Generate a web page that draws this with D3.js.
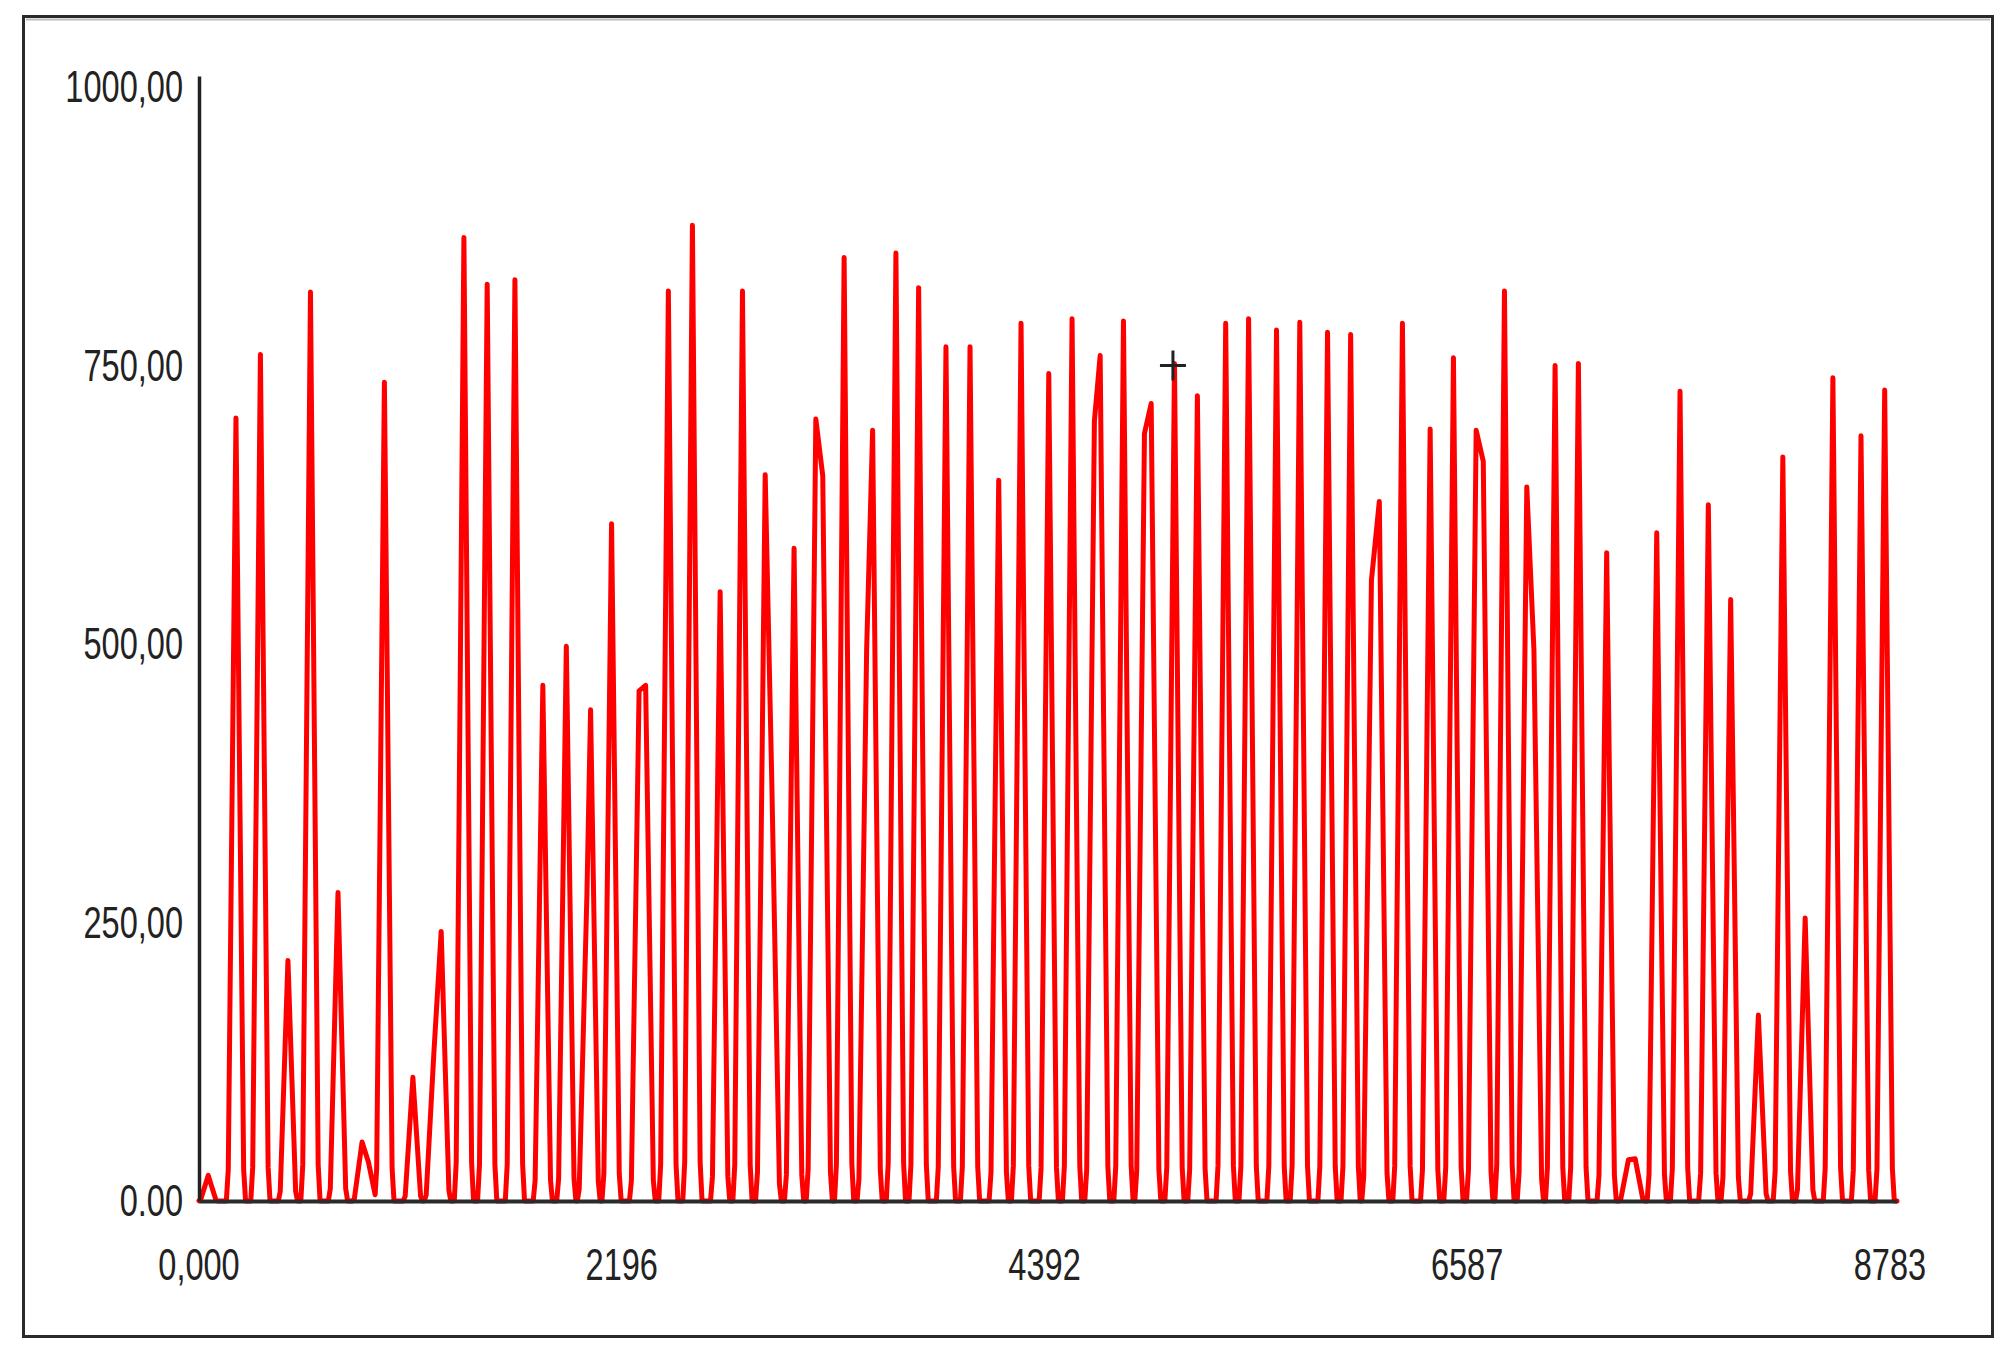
<!DOCTYPE html>
<html><head><meta charset="utf-8">
<script src="https://cdn.jsdelivr.net/npm/d3@7"></script>
<style>html,body{margin:0;padding:0;background:#fff;} svg{display:block}</style>
</head><body><svg id="chart" width="2010" height="1358"></svg>
<script>
// Peak positions (x units) and heights (shoulders and minor bumps included)
const peakX = [48, 192, 319, 462, 579, 722, 847, 880, 963, 1111, 1220, 1258, 1376, 1497, 1641, 1786, 1908, 2015, 2034, 2143,
  2286, 2320, 2438, 2563, 2707, 2823, 2941, 2975, 3091, 3204, 3240, 3351, 3468, 3499, 3620, 3738, 3880, 4005, 4154, 4270,
  4414, 4535, 4651, 4681, 4802, 4911, 4946, 5067, 5186, 5333, 5452, 5597, 5718, 5862, 5982, 6090, 6131, 6251, 6395, 6516,
  6634, 6671, 6781, 6897, 6934, 7044, 7165, 7312, 7425, 7460, 7572, 7693, 7840, 7956, 8100, 8227, 8343, 8487, 8633, 8756];
const peakY = [23, 703, 760, 216, 816, 277, 53, 35, 735, 111, 133, 242, 865, 823, 827, 463, 498, 275, 441, 608,
  458, 463, 817, 876, 547, 817, 652, 379, 586, 702, 651, 847, 495, 692, 851, 820, 767, 767, 647, 788,
  743, 792, 700, 759, 790, 689, 716, 752, 723, 788, 792, 782, 789, 780, 778, 557, 628, 788, 693, 757,
  692, 664, 817, 641, 495, 750, 752, 582, 37, 38, 600, 727, 625, 540, 167, 668, 254, 739, 687, 728];

const xTickValues = [0, 2196, 4392, 6587, 8783];
const xTickLabels = ["0,000", "2196", "4392", "6587", "8783"];
const yTickValues = [0, 250, 500, 750, 1000];
const yTickLabels = ["0.00", "250,00", "500,00", "750,00", "1000,00"];
const cursorPoint = [5059, 750];

const svg = d3.select("#chart");
svg.append("rect").attr("x", 23.5).attr("y", 16.5).attr("width", 1969).attr("height", 1320)
  .attr("fill", "#fff").attr("stroke", "#2a2a2a").attr("stroke-width", 3);
svg.append("line").attr("x1", 26).attr("x2", 1990).attr("y1", 19.5).attr("y2", 19.5).attr("stroke", "#bbb").attr("stroke-width", 2);

const x = d3.scaleLinear().domain([0, 8820]).range([199, 1897]);
const y = d3.scaleLinear().domain([0, 1010]).range([1201, 76]);

// peak profile (drawing style): features closer than GROUP merge into one peak with shoulders
const HALF = 50, FOOT = 0.8, FOOTH = 0.04, GROUP = 60;
const groups = [];
peakX.forEach((c, i) => {
  const g = groups[groups.length - 1];
  if (g && c - g[g.length - 1][0] < GROUP) g.push([c, peakY[i]]);
  else groups.push([[c, peakY[i]]]);
});
const polys = groups.map(g => {
  const a = g[0], b = g[g.length - 1];
  return [[a[0] - HALF, 0], [a[0] - FOOT * HALF, FOOTH * a[1]], ...g, [b[0] + FOOT * HALF, FOOTH * b[1]], [b[0] + HALF, 0]];
});
function evalPoly(s, xv) {
  if (xv <= s[0][0] || xv >= s[s.length - 1][0]) return 0;
  for (let k = 0; k < s.length - 1; k++) {
    const [x0, y0] = s[k], [x1, y1] = s[k + 1];
    if (xv >= x0 && xv <= x1) return x1 === x0 ? Math.max(y0, y1) : y0 + (y1 - y0) * (xv - x0) / (x1 - x0);
  }
  return 0;
}
const END = 8820;
let cand = [0, END];
polys.forEach(s => s.forEach(p => cand.push(p[0])));
for (let i = 0; i < polys.length; i++) for (let j = i + 1; j < Math.min(polys.length, i + 3); j++) {
  const a = polys[i], b = polys[j];
  for (let p = 0; p < a.length - 1; p++) for (let q = 0; q < b.length - 1; q++) {
    const [ax0, ay0] = a[p], [ax1, ay1] = a[p + 1], [bx0, by0] = b[q], [bx1, by1] = b[q + 1];
    const lo = Math.max(ax0, bx0), hi = Math.min(ax1, bx1);
    if (lo >= hi) continue;
    const ma = (ay1 - ay0) / (ax1 - ax0), mb = (by1 - by0) / (bx1 - bx0);
    if (ma === mb) continue;
    const xi = (by0 - mb * bx0 - ay0 + ma * ax0) / (ma - mb);
    if (xi > lo && xi < hi) cand.push(xi);
  }
}
cand = Array.from(new Set(cand.filter(v => v >= 0 && v <= END))).sort((a, b) => a - b);
const trace = cand.map(xv => [xv, d3.max(polys, s => evalPoly(s, xv))]);

svg.append("path").datum(trace)
  .attr("d", d3.line().x(d => x(d[0])).y(d => y(d[1])).curve(d3.curveLinear))
  .attr("fill", "none").attr("stroke", "#ff0000").attr("stroke-width", 5)
  .attr("stroke-linejoin", "round").attr("stroke-linecap", "round");

// axes
const gy = svg.append("g").attr("transform", "translate(199,0)")
  .call(d3.axisLeft(y).tickValues([]).tickSize(0).tickSizeOuter(0));
gy.select(".domain").attr("stroke", "#222").attr("stroke-width", 3.5);
const gx = svg.append("g").attr("transform", "translate(0,1201)")
  .call(d3.axisBottom(x).tickValues([]).tickSize(0).tickSizeOuter(0));
gx.select(".domain").attr("stroke", "#2b2b2b").attr("stroke-width", 4);

const font = "'Liberation Sans', Arial, sans-serif";
svg.append("g").selectAll("text").data(yTickValues).join("text")
  .attr("transform", d => `translate(183,${y(d)}) scale(0.74,1)`)
  .attr("text-anchor", "end").attr("dominant-baseline", "central")
  .attr("font-family", font).attr("font-size", 44).attr("fill", "#222")
  .text((d, i) => yTickLabels[i]);
svg.append("g").selectAll("text").data(xTickValues).join("text")
  .attr("transform", d => `translate(${x(d)},1265) scale(0.74,1)`)
  .attr("text-anchor", "middle").attr("dominant-baseline", "central")
  .attr("font-family", font).attr("font-size", 44).attr("fill", "#222")
  .text((d, i) => xTickLabels[i]);

// cursor cross
svg.append("path")
  .attr("transform", `translate(${x(cursorPoint[0])},${y(cursorPoint[1])})`)
  .attr("d", "M-13,0H13M0,-15V15").attr("stroke", "#222").attr("stroke-width", 3).attr("fill", "none");
</script>
</body></html>
